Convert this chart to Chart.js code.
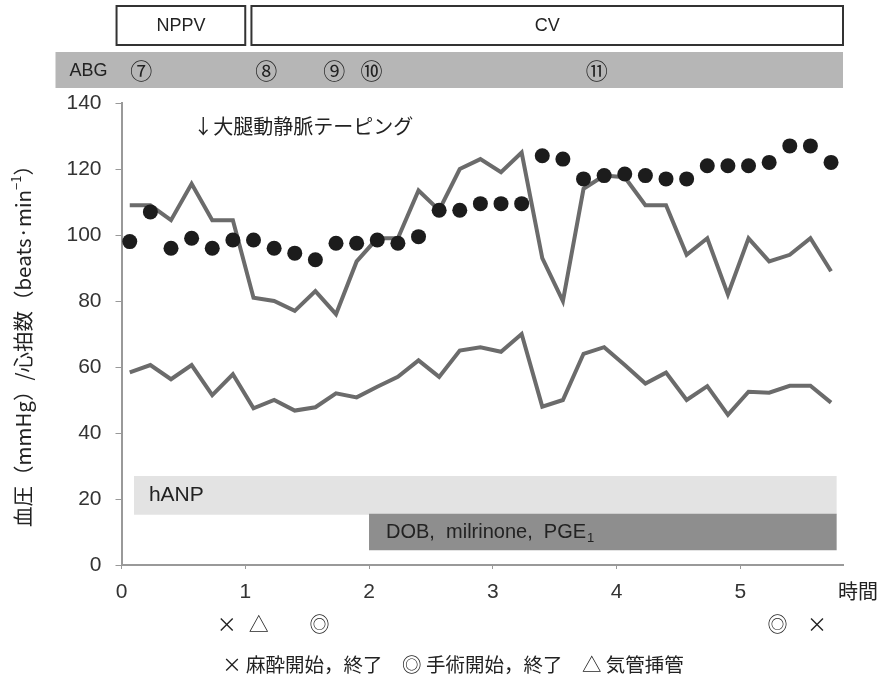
<!DOCTYPE html>
<html><head><meta charset="utf-8">
<script src="https://cdn.jsdelivr.net/npm/chart.js@4.4.1/dist/chart.umd.min.js"></script>
<style>html,body{margin:0;padding:0;background:#fff;}canvas{display:block;}</style>
</head><body>
<canvas id="c" width="884" height="687"></canvas>
<script>
// ---- data ----
const timeMin = [4,14,24,34,44,54,64,74,84,94,104,114,124,134,144,154,164,174,184,194,204,214,224,234,244,254,264,274,284,294,304,314,324,334,344];
const systolic = [109,109,104.5,115.5,104.5,104.5,81,80,77,83,76,92,99,99,113.5,107.5,120,123,119,125,93,80,114,118,117.5,109,109,94,99,82,99,92,94,99,89];
const diastolic = [58.4,60.6,56.3,60.6,51.5,57.8,47.5,50,46.8,47.8,52,50.8,54,57,62,57,65,66,64.6,70,48,50,64,66,60.6,55,58.3,50,54.2,45.5,52.5,52.2,54.3,54.3,49.2];
const heartRate = [98,107,96,99,96,98.5,98.5,96,94.5,92.5,97.5,97.5,98.5,97.5,99.5,107.5,107.5,109.5,109.5,109.5,124,123,117,118,118.5,118,117,117,121,121,121,122,127,127,122];

const bandLabels = ['hANP', 'DOB,  milrinone,  PGE'];
const bandStart = [0.10, 2.0];
const bandEnd = [5.78, 5.78];
const bandLow = [15.2, 4.5];
const bandHigh = [27, 15.5];

const phaseLabels = ['NPPV', 'CV'];
const phaseStart = [-0.04, 1.05];
const phaseEnd = [1.0, 5.83];

const abgLabels = ['⑦','⑧','⑨','⑩','⑪'];
const abgTimes = [0.16, 1.17, 1.72, 2.02, 3.84];

const eventSymbols = ['×','△','◎','◎','×'];
const eventTimes = [0.85, 1.11, 1.60, 5.30, 5.62];

const xTickValues = [0,1,2,3,4,5];
const X_MAX = 5.83;
const Y_MAX = 140;

// ---- helpers ----
const SANS = "'Liberation Sans', 'Noto Sans CJK JP', sans-serif";
const CJK = "'Noto Sans CJK JP', 'Liberation Sans', sans-serif";
const toPts = vals => vals.map((v,i) => ({x: timeMin[i]/60, y: v}));
const bandPts = i => [{x: bandStart[i], y: bandHigh[i]}, {x: bandEnd[i], y: bandHigh[i]}];

const overlay = {
  id: 'overlay',
  afterDraw(chart) {
    const ctx = chart.ctx, xs = chart.scales.x, ys = chart.scales.y, ca = chart.chartArea;
    ctx.save();
    ctx.fillStyle = '#222';
    // phase boxes
    ctx.lineWidth = 2; ctx.strokeStyle = '#333';
    ctx.font = `18px ${SANS}`; ctx.textAlign = 'center'; ctx.textBaseline = 'middle';
    phaseLabels.forEach((lab, i) => {
      const x0 = xs.getPixelForValue(phaseStart[i]), x1 = xs.getPixelForValue(phaseEnd[i]);
      ctx.strokeRect(x0, 6, x1 - x0, 39);
      ctx.fillText(lab, (x0 + x1) / 2, 26);
    });
    // ABG bar
    const abgLeft = ca.left - 66;
    ctx.fillStyle = '#b6b6b6';
    ctx.fillRect(abgLeft, 52, ca.right - abgLeft, 36);
    ctx.fillStyle = '#222';
    ctx.textAlign = 'left';
    ctx.font = `18px ${SANS}`;
    ctx.fillText('ABG', abgLeft + 14, 71);
    ctx.textAlign = 'center';
    ctx.font = `22px 'Noto Sans CJK JP', sans-serif`;
    abgLabels.forEach((lab, i) => ctx.fillText(lab, xs.getPixelForValue(abgTimes[i]), 71));
    // annotation
    ctx.font = `20px ${CJK}`;
    ctx.textAlign = 'left';
    ctx.fillText('↓大腿動静脈テーピング', xs.getPixelForValue(0.58), ys.getPixelForValue(133));
    // band labels
    ctx.font = `21px ${SANS}`;
    ctx.fillText(bandLabels[0], xs.getPixelForValue(bandStart[0]) + 15, ys.getPixelForValue((bandLow[0] + bandHigh[0]) / 2));
    ctx.font = `20px ${SANS}`;
    const bx = xs.getPixelForValue(bandStart[1]) + 17, by = ys.getPixelForValue((bandLow[1] + bandHigh[1]) / 2);
    ctx.fillText(bandLabels[1], bx, by);
    const w = ctx.measureText(bandLabels[1]).width;
    ctx.font = `13px ${SANS}`;
    ctx.fillText('1', bx + w + 1, by + 6);
    // x axis unit
    ctx.font = `20px ${CJK}`;
    ctx.textAlign = 'center';
    ctx.fillText('時間', 858, 591);
    // event markers
    ctx.font = `20px ${CJK}`;
    eventSymbols.forEach((s, i) => ctx.fillText(s, xs.getPixelForValue(eventTimes[i]), 624));
    // legend text
    ctx.font = `19.5px ${CJK}`;
    ctx.fillText('× 麻酔開始，終了　◎ 手術開始，終了　△ 気管挿管', 453, 665);
    // y title
    ctx.translate(23, 341);
    ctx.rotate(-Math.PI / 2);
    const p1 = '血圧（mmHg）/心拍数（beats·min', sup = '−1', p3 = '）';
    ctx.font = `20.5px ${CJK}`; const w1 = ctx.measureText(p1).width, w3 = ctx.measureText(p3).width;
    ctx.font = `13px ${CJK}`; const w2 = ctx.measureText(sup).width;
    let sx = -(w1 + w2 + w3) / 2;
    ctx.textAlign = 'left';
    ctx.font = `20.5px ${CJK}`; ctx.fillText(p1, sx, 0); sx += w1;
    ctx.font = `13px ${CJK}`; ctx.fillText(sup, sx, -7); sx += w2;
    ctx.font = `20.5px ${CJK}`; ctx.fillText(p3, sx, 0);
    ctx.restore();
  }
};

new Chart(document.getElementById('c'), {
  type: 'line',
  data: {
    datasets: [
      { label: '心拍数', data: toPts(heartRate), showLine: false, pointRadius: 7.5, pointBackgroundColor: '#1c1c1c', pointBorderWidth: 0, order: 0 },
      { label: '収縮期血圧', data: toPts(systolic), borderColor: '#6b6b6b', borderWidth: 4, pointRadius: 0, tension: 0, order: 1 },
      { label: '拡張期血圧', data: toPts(diastolic), borderColor: '#6b6b6b', borderWidth: 4, pointRadius: 0, tension: 0, order: 1 },
      { label: 'DOB', data: bandPts(1), borderWidth: 0, pointRadius: 0, fill: {value: bandLow[1]}, backgroundColor: '#8e8e8e', order: 2 },
      { label: 'hANP', data: bandPts(0), borderWidth: 0, pointRadius: 0, fill: {value: bandLow[0]}, backgroundColor: '#e3e3e3', order: 3 }
    ]
  },
  options: {
    responsive: false,
    animation: false,
    layout: { padding: { top: 103, right: 41, left: 0, bottom: 0 } },
    plugins: { legend: { display: false }, tooltip: { enabled: false } },
    scales: {
      x: {
        type: 'linear', min: 0, max: X_MAX,
        afterBuildTicks: s => { s.ticks = xTickValues.map(v => ({ value: v })); },
        afterFit: s => { s.height = 122; },
        ticks: { font: { family: SANS, size: 21 }, color: '#333', padding: 11 },
        grid: { drawOnChartArea: false, tickLength: 4, color: '#999' },
        border: { color: '#999', width: 2 }
      },
      y: {
        min: 0, max: Y_MAX,
        afterFit: s => { s.width = 121.5; },
        ticks: { stepSize: 20, font: { family: SANS, size: 21 }, color: '#333', padding: 14 },
        grid: { drawOnChartArea: false, tickLength: 6, color: '#999' },
        border: { color: '#999', width: 2 }
      }
    }
  },
  plugins: [overlay]
});
</script>
</body></html>
